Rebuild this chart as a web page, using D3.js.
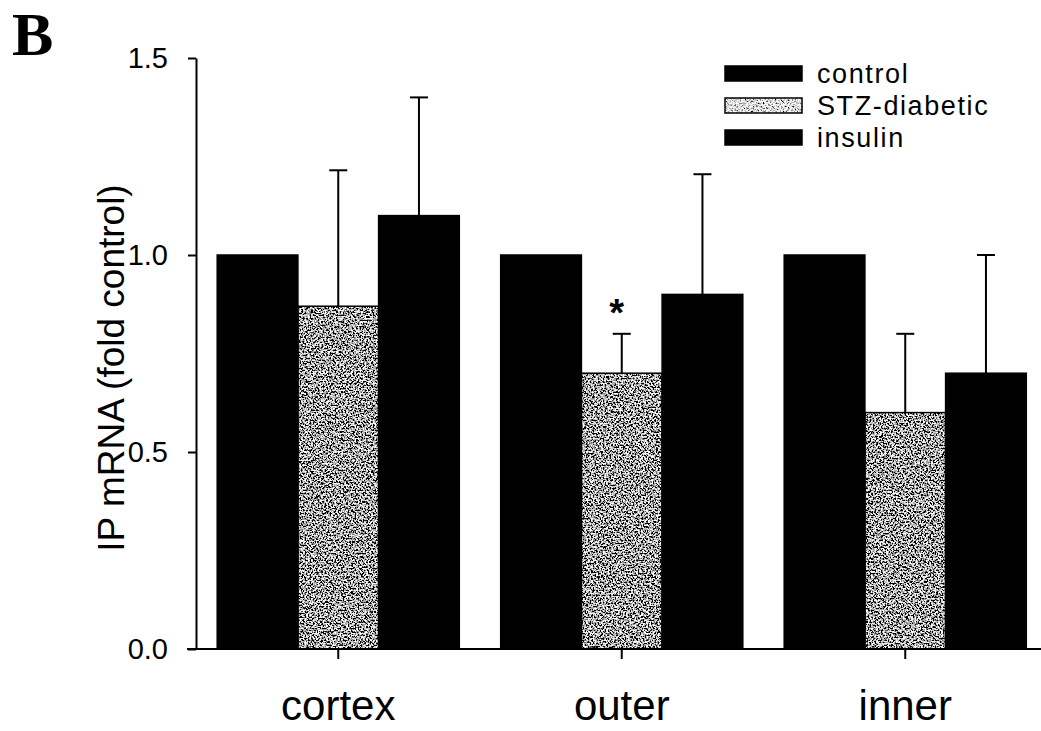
<!DOCTYPE html>
<html>
<head>
<meta charset="utf-8">
<script src="https://cdn.jsdelivr.net/npm/d3@7"></script>
<style>
  html, body { margin: 0; padding: 0; background: #fff; }
  svg { display: block; }
  text { font-family: "Liberation Sans", Arial, Helvetica, sans-serif; fill: #000; }
</style>
</head>
<body>
<svg id="chart" width="1041" height="731"></svg>
<script>
// ---- data ----
const categories = ["cortex", "outer", "inner"];
const seriesNames = ["control", "STZ-diabetic", "insulin"];
const controlValues = [1.00, 1.00, 1.00];
const stzValues = [0.87, 0.70, 0.60];
const insulinValues = [1.10, 0.90, 0.70];
const controlErrors = [0, 0, 0];
const stzErrors = [0.345, 0.10, 0.20];
const insulinErrors = [0.30, 0.305, 0.30];
const yTicks = [0.0, 0.5, 1.0, 1.5];
const significant = [{ category: "outer", series: "STZ-diabetic", mark: "*" }];
const yLabel = "IP mRNA (fold control)";
const panelLabel = "B";

// ---- layout ----
const W = 1041, H = 731;
const margin = { left: 196, right: 0, top: 58, bottom: 82 };
const svg = d3.select("#chart");

const defs = svg.append("defs");
function speckle(id, slope, intercept) {
  const f = defs.append("filter").attr("id", id)
    .attr("x", 0).attr("y", 0).attr("width", 1).attr("height", 1)
    .attr("filterUnits", "objectBoundingBox");
  f.append("feTurbulence").attr("type", "fractalNoise")
    .attr("baseFrequency", 0.6).attr("numOctaves", 2).attr("seed", 7).attr("result", "n");
  f.append("feColorMatrix").attr("type", "matrix")
    .attr("values", "1 0 0 0 0  1 0 0 0 0  1 0 0 0 0  0 0 0 0 1").attr("result", "g");
  const ct = f.append("feComponentTransfer").attr("result", "t");
  ["feFuncR", "feFuncG", "feFuncB"].forEach(fn =>
    ct.append(fn).attr("type", "linear").attr("slope", slope).attr("intercept", intercept));
  f.append("feComposite").attr("in", "t").attr("in2", "SourceGraphic").attr("operator", "in");
}
speckle("speckle", 4.5, -1.85);
speckle("speckleLight", 3.0, -0.75);

const y = d3.scaleLinear().domain([0, 1.5]).range([H - margin.bottom, margin.top]);
const x = d3.scaleBand().domain(categories).range([margin.left + 0.5, 1047])
  .paddingInner(0.146).paddingOuter(0.073);
const xs = d3.scaleBand().domain(seriesNames).range([0, x.bandwidth()]).padding(0);

const colors = { "control": "#000", "STZ-diabetic": "#9c9c9c", "insulin": "#000" };

const rows = [];
categories.forEach((c, i) => {
  rows.push({ c, s: "control", v: controlValues[i], e: controlErrors[i] });
  rows.push({ c, s: "STZ-diabetic", v: stzValues[i], e: stzErrors[i] });
  rows.push({ c, s: "insulin", v: insulinValues[i], e: insulinErrors[i] });
});

// bars
const g = svg.append("g");
g.selectAll("rect.bar").data(rows).enter().append("rect")
  .attr("class", "bar")
  .attr("x", d => x(d.c) + xs(d.s))
  .attr("y", d => y(d.v))
  .attr("width", xs.bandwidth())
  .attr("height", d => y(0) - y(d.v))
  .attr("fill", d => colors[d.s])
  .attr("filter", d => d.s === "STZ-diabetic" ? "url(#speckle)" : null);
// bar outlines
g.selectAll("rect.outline").data(rows).enter().append("rect")
  .attr("class", "outline")
  .attr("x", d => x(d.c) + xs(d.s))
  .attr("y", d => y(d.v))
  .attr("width", xs.bandwidth())
  .attr("height", d => y(0) - y(d.v))
  .attr("fill", "none").attr("stroke", "#000").attr("stroke-width", 1.5);

// error bars (upper only)
const capW = 18;
const eb = g.selectAll("g.err").data(rows.filter(d => d.e > 0)).enter().append("g");
eb.append("line")
  .attr("x1", d => x(d.c) + xs(d.s) + xs.bandwidth() / 2)
  .attr("x2", d => x(d.c) + xs(d.s) + xs.bandwidth() / 2)
  .attr("y1", d => y(d.v)).attr("y2", d => y(d.v + d.e))
  .attr("stroke", "#000").attr("stroke-width", 2);
eb.append("line")
  .attr("x1", d => x(d.c) + xs(d.s) + xs.bandwidth() / 2 - capW / 2)
  .attr("x2", d => x(d.c) + xs(d.s) + xs.bandwidth() / 2 + capW / 2)
  .attr("y1", d => y(d.v + d.e)).attr("y2", d => y(d.v + d.e))
  .attr("stroke", "#000").attr("stroke-width", 2);

// significance marks
significant.forEach(sg => {
  const r = rows.find(d => d.c === sg.category && d.s === sg.series);
  svg.append("text")
    .attr("x", x(r.c) + xs(r.s) + xs.bandwidth() / 2 - 5)
    .attr("y", y(r.v + r.e) - 8)
    .attr("text-anchor", "middle")
    .attr("font-size", 38).attr("font-weight", "bold")
    .text(sg.mark);
});

// y axis
const yAxis = svg.append("g").attr("transform", `translate(${margin.left},0)`)
  .call(d3.axisLeft(y).tickValues(yTicks).tickFormat(d3.format(".1f"))
    .tickSize(8).tickSizeOuter(0).tickPadding(20));
yAxis.select(".domain").attr("stroke-width", 2);
yAxis.selectAll(".tick line").attr("stroke-width", 2);
yAxis.selectAll("text").attr("font-size", 29).attr("fill", "#000")
  .style("font-family", '"Liberation Sans", Arial, sans-serif');

// x axis
const xAxis = svg.append("g").attr("transform", `translate(0,${y(0)})`)
  .call(d3.axisBottom(x).tickSize(10).tickSizeOuter(0).tickPadding(31));
xAxis.select(".domain").remove();
xAxis.append("line").attr("x1", margin.left - 9).attr("x2", W).attr("y1", 0).attr("y2", 0)
  .attr("stroke", "#000").attr("stroke-width", 2);
xAxis.selectAll(".tick line").attr("stroke-width", 2);
xAxis.selectAll("text").attr("font-size", 42).attr("fill", "#000")
  .style("font-family", '"Liberation Sans", Arial, sans-serif');

// y label
svg.append("text")
  .attr("transform", `translate(124,368) rotate(-90)`)
  .attr("text-anchor", "middle")
  .attr("font-size", 37)
  .text(yLabel);

// panel label
svg.append("text").attr("x", 12).attr("y", 55)
  .style("font-family", '"Liberation Serif", "Times New Roman", serif')
  .attr("font-weight", "bold").attr("font-size", 62)
  .text(panelLabel);

// legend
const legend = svg.append("g").attr("transform", "translate(725,66)");
const li = legend.selectAll("g").data(seriesNames).enter().append("g")
  .attr("transform", (d, i) => `translate(0,${i * 32})`);
li.append("rect").attr("width", 77).attr("height", 15)
  .attr("fill", d => d === "STZ-diabetic" ? "#d0d0d0" : "#000")
  .attr("filter", d => d === "STZ-diabetic" ? "url(#speckleLight)" : null);
li.append("rect").attr("width", 77).attr("height", 15)
  .attr("fill", "none").attr("stroke", "#000").attr("stroke-width", 1.5);
li.append("text").attr("x", 92).attr("y", 7.5).attr("dy", "0.36em")
  .attr("font-size", 27).attr("letter-spacing", 1.6).text(d => d);
</script>
</body>
</html>
